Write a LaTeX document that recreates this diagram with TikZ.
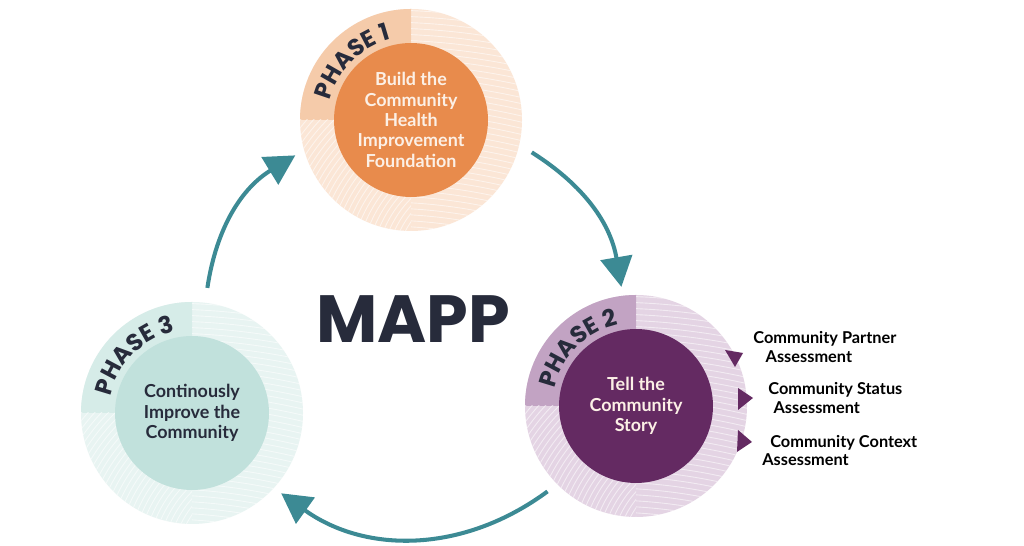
\documentclass[tikz,border=0pt]{standalone}
\usepackage{fontspec}
\setmainfont{Lato}
\newfontfamily\headfont{Poppins}
\usetikzlibrary{arrows.meta,decorations.text,positioning}

\definecolor{navy}{HTML}{272B3B}
\definecolor{arrowteal}{HTML}{3C8A94}
\definecolor{orangein}{HTML}{E88B4C}
\definecolor{orangering}{HTML}{FBE6D6}
\definecolor{orangedark}{HTML}{F5CBAA}
\definecolor{purplein}{HTML}{642A62}
\definecolor{purplering}{HTML}{E4D4E4}
\definecolor{purpledark}{HTML}{C2A3C3}
\definecolor{tealin}{HTML}{C1E1DC}
\definecolor{tealring}{HTML}{E8F4F2}
\definecolor{tealdark}{HTML}{D6ECE8}
\definecolor{cream}{HTML}{FCF0E6}

\newcommand\phasefont{\headfont\bfseries\fontsize{13.5}{13.5}\selectfont}

% outer ring of one phase: centre, light colour, dark quadrant colour
\newcommand\phasering[3]{%
  \fill[#2] (#1) circle (111);
  \fill[#3] (#1) -- ++(-111,0) arc[start angle=180,end angle=90,radius=111] -- cycle;
  \begin{scope}
    \clip (#1) circle (111);
    \clip (#1) rectangle ++(112,112) (#1) rectangle ++(112,-112);
    \foreach \k in {0,...,38}
      \draw[ringline] (#1) ++(-30,-600) circle (488+6*\k);
  \end{scope}
  \begin{scope}
    \clip (#1) circle (111);
    \clip (#1) rectangle ++(-112,-112);
    \foreach \k in {0,...,36}
      \draw[ringline] (#1) ++(70,-150) circle (60+5*\k);
  \end{scope}
}

\tikzset{
  ringline/.style={white, opacity=0.55, line width=0.5pt},
  phase/.style={circle, inner sep=0pt, minimum size=3.08cm, align=center,
    font=\bfseries\fontsize{10.2}{11.6}\selectfont},
  flow/.style={draw=arrowteal, line width=2.3pt, -{Triangle[length=17pt,width=18pt]}},
  item/.style={inner sep=0pt, anchor=west, align=left, text=black,
    font=\bfseries\fontsize{9.3}{10.3}\selectfont},
  marker/.style={fill=purplein}
}

\begin{document}
\begin{tikzpicture}[x=0.02cm,y=0.02cm]
  \fill[white] (0,0) rectangle (1024,546);
  \useasboundingbox (0,0) rectangle (1024,546);

  % centres of the three phases
  \coordinate (c1) at (411,426);
  \coordinate (c2) at (636,140);
  \coordinate (c3) at (192,133);

  % rings
  \phasering{c1}{orangering}{orangedark}
  \phasering{c2}{purplering}{purpledark}
  \phasering{c3}{tealring}{tealdark}

  % inner circles
  \node[phase, fill=orangein, text=cream] (p1) at (c1) {Build the\\Community\\Health\\Improvement\\Foundation};
  \node[phase, fill=purplein, text=cream] (p2) at (c2) {Tell the\\Community\\Story};
  \node[phase, fill=tealin, text=navy] (p3) at (c3) {Continously\\Improve the\\Community};

  % phase labels along the rings
  \path[decorate, decoration={text along path, text align=center, text color=navy,
    text={|\phasefont|PHASE 1}}] (c1) ++(180:83) arc[start angle=180,end angle=90,radius=83];
  \path[decorate, decoration={text along path, text align=center, text color=navy,
    text={|\phasefont|PHASE 2}}] (c2) ++(180:83) arc[start angle=180,end angle=90,radius=83];
  \path[decorate, decoration={text along path, text align=center, text color=navy,
    text={|\phasefont|PHASE 3}}] (c3) ++(180:83) arc[start angle=180,end angle=90,radius=83];

  % title
  \node[text=navy, font=\headfont\bfseries\fontsize{38}{38}\selectfont] (mapp) at (413,227) {MAPP};

  % ends of the cycle arrows
  \path (c3) ++(83:126) coordinate (s31);
  \path (c1) ++(197:121) coordinate (e31);
  \path (c1) ++(-15:125) coordinate (s12);
  \path (c2) ++(97:120) coordinate (e12);
  \path (c2) ++(224:123) coordinate (s23);
  \path (c3) ++(-42:120) coordinate (e23);

  \draw[flow] (s31) to[bend left=25] (e31);
  \draw[flow] (s12) to[bend left=24] (e12);
  \draw[flow] (s23) to[bend left=36] (e23);

  % markers on phase 2
  \fill[marker] (725,196) -- (743,193) -- (735,179) -- cycle;
  \fill[marker] (738,158) -- (753,148) -- (738,136) -- cycle;
  \fill[marker] (738,116) -- (752,104) -- (737,94) -- cycle;

  % assessments
  \node[item] (partner) at (753,199) {Community Partner\\\hspace*{7pt}Assessment};
  \node[item] (status) at (768,148) {Community Status\\\hspace*{3pt}Assessment};
  \node[item] (context) at (762,95.5) {\hspace*{4.5pt}Community Context\\Assessment};
\end{tikzpicture}
\end{document}
